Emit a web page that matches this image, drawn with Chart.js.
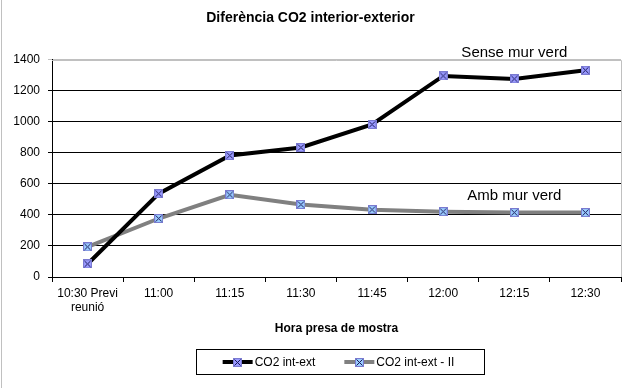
<!DOCTYPE html>
<html>
<head>
<meta charset="utf-8">
<script src="https://cdn.jsdelivr.net/npm/chart.js@4"></script>
<style>
  body { margin: 0; background: #fff; }
  #wrap { width: 633px; height: 388px; position: relative; }
</style>
</head>
<body>
<div id="wrap"><canvas id="co2Chart"></canvas></div>
<script>
const categories = [["10:30 Previ", "reunió"], "11:00", "11:15", "11:30", "11:45", "12:00", "12:15", "12:30"];
const seriesNames = ["CO2 int-ext", "CO2 int-ext - II"];
const senseMurVerd = [84, 537, 783, 835, 983, 1296, 1277, 1333];
const ambMurVerd = [194, 377, 530, 467, 434, 421, 415, 415];
const yTicks = [0, 200, 400, 600, 800, 1000, 1200, 1400];
const notes = [
  { text: "Sense mur verd", index: 6, value: 1447 },
  { text: "Amb mur verd", index: 6, value: 525 }
];

// marcador: quadrat amb creu
function makeMarker(fill) {
  const c = document.createElement("canvas");
  c.width = 9;
  c.height = 9;
  const g = c.getContext("2d");
  g.fillStyle = fill;
  g.fillRect(0, 0, 9, 9);
  g.strokeStyle = "#7a7ad0";
  g.lineWidth = 1;
  g.strokeRect(0.5, 0.5, 8, 8);
  g.strokeStyle = "#1a1a5a";
  g.beginPath();
  g.moveTo(1.5, 1.5); g.lineTo(7.5, 7.5);
  g.moveTo(7.5, 1.5); g.lineTo(1.5, 7.5);
  g.stroke();
  return c;
}

const markerA = makeMarker("#9999ff");
const markerB = makeMarker("#99ccff");
const lineColors = ["#000000", "#808080"];
const markers = [markerA, markerB];

const framePlugin = {
  id: "frame",
  beforeDraw(chart) {
    const { ctx } = chart;
    ctx.save();
    ctx.strokeStyle = "#c0c0c0";
    ctx.lineWidth = 1;
    ctx.beginPath();
    ctx.moveTo(1.5, 0);
    ctx.lineTo(1.5, chart.height);
    ctx.stroke();
    ctx.restore();
  },
  afterDraw(chart) {
    const { ctx, chartArea: a } = chart;
    ctx.save();
    ctx.strokeStyle = "#c0c0c0";
    ctx.lineWidth = 1;
    ctx.beginPath();
    ctx.moveTo(a.left, Math.round(a.top) + 0.5);
    ctx.lineTo(Math.round(a.right) + 0.5, Math.round(a.top) + 0.5);
    ctx.lineTo(Math.round(a.right) + 0.5, a.bottom);
    ctx.stroke();

    // etiquetes de les sèries
    const xs = chart.scales.x;
    const ys = chart.scales.y;
    ctx.font = "15px 'Liberation Sans', Arial, sans-serif";
    ctx.fillStyle = "#000";
    ctx.textAlign = "center";
    ctx.textBaseline = "middle";
    notes.forEach(n => {
      ctx.fillText(n.text, xs.getPixelForValue(n.index), ys.getPixelForValue(n.value));
    });

    // llegenda amb caixa
    ctx.font = "12px 'Liberation Sans', Arial, sans-serif";
    ctx.textAlign = "left";
    const lineLen = 30, gap = 2, between = 29;
    const widths = seriesNames.map(s => ctx.measureText(s).width);
    const total = widths.reduce((s, w) => s + lineLen + gap + w, 0) + between;
    const cx = (a.left + a.right) / 2 + 2;
    const boxL = Math.round(cx - total / 2 - 27) + 0.5;
    const boxR = Math.round(cx + total / 2 + 30) + 0.5;
    const boxT = 349.5, boxB = 374.5;
    const cy = (boxT + boxB) / 2;
    ctx.strokeStyle = "#000";
    ctx.lineWidth = 1;
    ctx.strokeRect(boxL, boxT, boxR - boxL, boxB - boxT);
    let x = cx - total / 2;
    seriesNames.forEach((name, i) => {
      ctx.strokeStyle = lineColors[i];
      ctx.lineWidth = 4;
      ctx.beginPath();
      ctx.moveTo(x, cy);
      ctx.lineTo(x + lineLen, cy);
      ctx.stroke();
      ctx.drawImage(markers[i], Math.round(x + lineLen / 2 - 4.5), Math.round(cy - 4.5));
      ctx.fillStyle = "#000";
      ctx.fillText(name, x + lineLen + gap, cy + 1);
      x += lineLen + gap + widths[i] + between;
    });
    ctx.restore();
  }
};

new Chart(document.getElementById("co2Chart"), {
  type: "line",
  data: {
    labels: categories,
    datasets: [
      {
        label: seriesNames[0],
        data: senseMurVerd,
        borderColor: lineColors[0],
        borderWidth: 4,
        pointStyle: markerA,
        pointRadius: 4.5,
        tension: 0
      },
      {
        label: seriesNames[1],
        data: ambMurVerd,
        borderColor: lineColors[1],
        borderWidth: 4,
        pointStyle: markerB,
        pointRadius: 4.5,
        tension: 0
      }
    ]
  },
  options: {
    responsive: true,
    maintainAspectRatio: false,
    animation: false,
    layout: { padding: { left: 0, right: 12, top: 0, bottom: 48 } },
    plugins: {
      legend: { display: false },
      tooltip: { enabled: false },
      title: {
        display: true,
        text: "Diferència CO2 interior-exterior",
        color: "#000",
        font: { family: "'Liberation Sans', Arial, sans-serif", size: 14, weight: "bold" },
        padding: { top: 10, bottom: 33 }
      }
    },
    scales: {
      x: {
        offset: true,
        grid: { offset: true, drawOnChartArea: false, color: "#000", tickLength: 5 },
        border: { color: "#000" },
        ticks: { color: "#000", padding: 4, maxRotation: 0, font: { family: "'Liberation Sans', Arial, sans-serif", size: 12 } },
        title: {
          display: true,
          text: "Hora presa de mostra",
          color: "#000",
          font: { family: "'Liberation Sans', Arial, sans-serif", size: 12, weight: "bold" },
          padding: { top: 4, bottom: 4 }
        },
        afterFit(scale) { scale.height = 63; }
      },
      y: {
        min: 0,
        max: 1400,
        afterBuildTicks(scale) { scale.ticks = yTicks.map(v => ({ value: v })); },
        grid: {
          color: ctx => (ctx.tick && ctx.tick.value === 1400 ? "#c0c0c0" : "#000"),
          tickLength: 4
        },
        border: { color: "#000" },
        ticks: {
          color: "#000",
          padding: 8,
          font: { family: "'Liberation Sans', Arial, sans-serif", size: 12 },
          callback: v => String(v)
        },
        afterFit(scale) { scale.width = 52; }
      }
    }
  },
  plugins: [framePlugin]
});
</script>
</body>
</html>
